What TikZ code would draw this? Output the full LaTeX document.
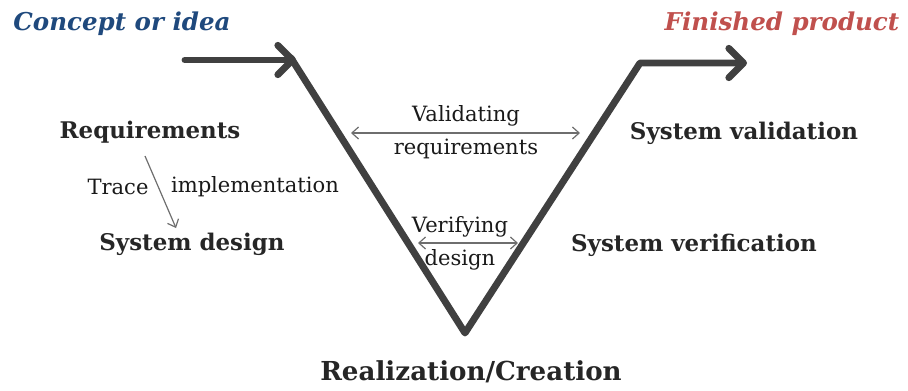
\documentclass[tikz,border=0pt]{standalone}
\usepackage{fontspec}
\setmainfont{DejaVu Serif}
\usepackage{xcolor}
\usetikzlibrary{arrows.meta,positioning}

\definecolor{ideablue}{HTML}{1F497D}
\definecolor{productred}{HTML}{C0504D}
\definecolor{vgray}{HTML}{404040}
\definecolor{thingray}{HTML}{6E6E6E}

\begin{document}
\begin{tikzpicture}[x=0.75pt,y=-0.75pt,
    stage/.style={font=\fontsize{17.2}{20}\selectfont\bfseries, text=black!85},
    note/.style={font=\fontsize{15.8}{24.8}\selectfont, text=black!90, align=center},
    goal/.style={font=\fontsize{18.4}{22}\selectfont\bfseries\itshape},
    vline/.style={draw=vgray, line width=5.2pt, line cap=round, line join=round},
    thin/.style={draw=thingray, line width=0.9pt, -{Straight Barb[length=5pt,width=9pt]}}]
    \useasboundingbox (0,0) rectangle (908,390);

    % titles
    \node (concept) [goal, text=ideablue] at (122,24) {Concept or idea};
    \node (finished) [goal, text=productred] at (782,24) {Finished product};

    % left side
    \node (req) [stage] at (150,132) {Requirements};
    \node (sysdesign) [stage] at (192,244) {System design};
    \node (trace) [note] at (118,187) {Trace};
    \node (impl) [note] at (255,187) {implementation};

    % right side
    \node (sysval) [stage] at (744,133) {System validation};
    \node (sysverif) [stage] at (694,245) {System verification};
    \node (realiz) [stage, font=\fontsize{19.6}{22}\selectfont\bfseries] at (471,372) {Realization/Creation};

    % inside the V
    \node (valid) [note] at (466,132) {Validating\\requirements};
    \node (verif) [note] at (460,243) {Verifying\\design};

    % the V
    \coordinate (start) at (185,60);
    \coordinate (tip) at (296,60);
    \coordinate (topleft) at (291,58);
    \coordinate (bottom) at (465,333);
    \coordinate (topright) at (640,63);
    \coordinate (end) at (747,63);
    \draw [vline, -{Straight Barb[length=11pt,width=22pt,round]}] (start) -- (tip);
    \draw [vline, -{Straight Barb[length=11pt,width=22pt,round]}] (topleft) -- (bottom) -- (topright) -- (end);

    % thin arrows
    \coordinate (traceA) at (145,156);
    \coordinate (traceB) at (176,228);
    \coordinate (validL) at (351,133);
    \coordinate (validR) at (580,133);
    \coordinate (verifL) at (418,243);
    \coordinate (verifR) at (518,243);
    \draw [thin] (traceA) -- (traceB);
    \draw [thin, {Straight Barb[length=5pt,width=9pt]}-{Straight Barb[length=5pt,width=9pt]}] (validL) -- (validR);
    \draw [thin, {Straight Barb[length=5pt,width=9pt]}-{Straight Barb[length=5pt,width=9pt]}] (verifL) -- (verifR);
\end{tikzpicture}
\end{document}
